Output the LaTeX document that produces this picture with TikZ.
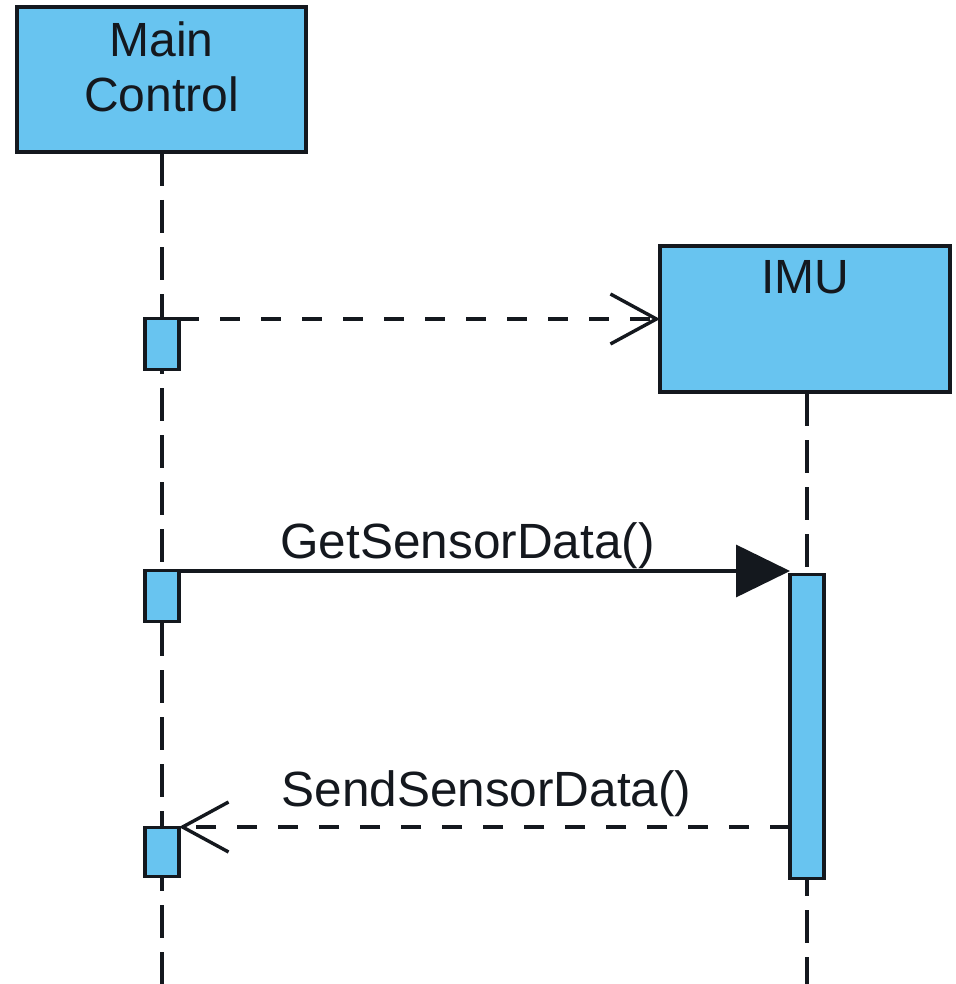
\documentclass[tikz,border=0pt]{standalone}
\usepackage{fontspec}
\setmainfont{Liberation Sans}
\usetikzlibrary{arrows.meta}
\definecolor{objfill}{RGB}{104,196,240}
\definecolor{ink}{RGB}{20,24,30}
\tikzset{
  objbox/.style={draw=ink, line width=3.6pt, fill=objfill},
  actbox/.style={draw=ink, line width=3.4pt, fill=objfill, minimum width=34pt, inner sep=0pt, anchor=north},
  lifeline/.style={draw=ink, line width=3.6pt, dash pattern=on 33pt off 14pt},
  msgline/.style={draw=ink, line width=3.4pt},
  retline/.style={msgline, dash pattern=on 20pt off 21pt},
  openhead/.style={-{Straight Barb[length=46pt,width=50pt,line width=3.4pt]}},
  filledhead/.style={-{Triangle[length=54pt,width=52pt]}},
  lbl/.style={text=ink, font=\fontsize{48}{55}\selectfont, inner sep=0pt},
  msglbl/.style={text=ink, font=\fontsize{49.5}{56}\selectfont, inner sep=0pt}
}
\begin{document}
\begin{tikzpicture}[x=1pt,y=-1pt]
\useasboundingbox (0,0) rectangle (955,984);
\fill[white] (0,0) rectangle (955,984);

% lifelines
\draw[lifeline] (162,153) -- (162,984);
\draw[lifeline] (807,393) -- (807,984);

% participants
\path[objbox] (17,7) rectangle (306,152);
\node[lbl, align=center, anchor=base] (mainlbl) at (161.5,112) {Main\\Control};
\path[objbox] (660,246) rectangle (950,392);
\node[lbl, anchor=base] (imulbl) at (805,293) {IMU};

% activation bars
\node[actbox, minimum height=51pt] (act1) at (162,317) {};
\node[actbox, minimum height=51pt] (act2) at (162,569) {};
\node[actbox, minimum height=49pt] (act3) at (162,826) {};
\node[actbox, minimum height=304pt] (actimu) at (807,573) {};

% message end points
\coordinate (m1s) at (179,319);
\coordinate (m1e) at (660,319);
\coordinate (m2s) at (179,571);
\coordinate (m2e) at (790,571);
\coordinate (m3s) at (790,827);
\coordinate (m3e) at (179,827);

% messages
\draw[retline, openhead] (m1s) -- (m1e);
\draw[msgline, filledhead] (m2s) -- (m2e);
\node[msglbl, anchor=base] (getlbl) at (467.5,558) {GetSensorData()};
\draw[retline, openhead] (m3s) -- (m3e);
\node[msglbl, anchor=base] (sendlbl) at (486.5,806) {SendSensorData()};
\end{tikzpicture}
\end{document}
